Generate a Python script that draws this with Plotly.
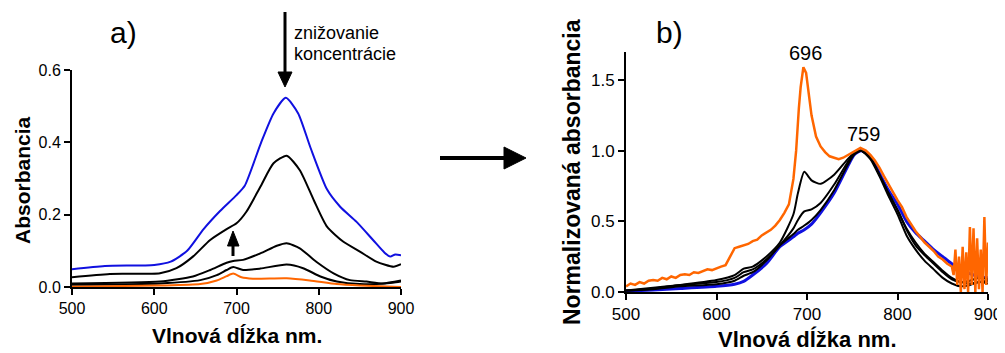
import plotly.graph_objects as go

# ---------------- Panel a) data ----------------
wl_blue_a = [500, 540, 600, 620, 640, 660, 680, 700, 710, 730, 745, 760, 775, 790, 810, 826, 846, 866, 880, 887, 893, 900]
blue_a = [0.049, 0.058, 0.061, 0.07, 0.1, 0.16, 0.21, 0.254, 0.28, 0.40, 0.48, 0.523, 0.48, 0.385, 0.27, 0.222, 0.18, 0.13, 0.095, 0.084, 0.09, 0.088]

wl_k1_a = [500, 546, 607, 627, 647, 668, 688, 700, 712, 729, 745, 761, 777, 794, 810, 830, 850, 870, 891, 900]
k1_a = [0.027, 0.036, 0.038, 0.052, 0.084, 0.13, 0.16, 0.176, 0.208, 0.277, 0.342, 0.363, 0.323, 0.24, 0.167, 0.125, 0.098, 0.07, 0.056, 0.063]

wl_k2_a = [500, 607, 647, 668, 688, 696, 708, 729, 749, 761, 777, 797, 818, 838, 858, 878, 900]
k2_a = [0.01, 0.015, 0.029, 0.047, 0.067, 0.072, 0.075, 0.093, 0.114, 0.121, 0.107, 0.07, 0.038, 0.019, 0.015, 0.01, 0.018]

wl_k3_a = [500, 607, 656, 676, 688, 696, 708, 729, 761, 781, 802, 822, 850, 890, 900]
k3_a = [0.006, 0.01, 0.019, 0.033, 0.047, 0.055, 0.047, 0.051, 0.062, 0.052, 0.029, 0.015, 0.008, 0.012, 0.015]

wl_or_a = [500, 607, 656, 676, 688, 696, 706, 720, 761, 789, 822, 850, 900]
or_a = [0.001, 0.004, 0.008, 0.018, 0.03, 0.037, 0.027, 0.023, 0.024, 0.018, 0.008, 0.004, 0.0]

# ---------------- Panel b) data ----------------
wl_b = [500, 530, 560, 600, 620, 630, 640, 655, 670, 685, 690, 697, 705, 715, 730, 745, 752, 760, 770, 780, 790, 800, 810, 820, 830, 840, 850, 860, 870, 880, 890, 900]
blue_b = [0.005, 0.015, 0.025, 0.04, 0.055, 0.075, 0.12, 0.2, 0.32, 0.39, 0.415, 0.44, 0.48, 0.56, 0.70, 0.89, 0.97, 1.0, 0.96, 0.84, 0.72, 0.62, 0.50, 0.42, 0.36, 0.30, 0.25, 0.20, 0.16, 0.13, 0.11, 0.10]
kC_b = [0.01, 0.02, 0.04, 0.055, 0.08, 0.115, 0.14, 0.22, 0.33, 0.41, 0.44, 0.47, 0.51, 0.58, 0.72, 0.90, 0.97, 1.0, 0.95, 0.83, 0.70, 0.58, 0.45, 0.35, 0.27, 0.21, 0.15, 0.10, 0.07, 0.06, 0.07, 0.08]
kB_b = [0.01, 0.025, 0.05, 0.07, 0.10, 0.14, 0.16, 0.23, 0.33, 0.45, 0.51, 0.57, 0.585, 0.63, 0.76, 0.92, 0.98, 1.0, 0.95, 0.83, 0.70, 0.58, 0.44, 0.33, 0.26, 0.20, 0.14, 0.09, 0.07, 0.08, 0.10, 0.09]
kA_b = [0.01, 0.03, 0.05, 0.085, 0.12, 0.165, 0.18, 0.25, 0.35, 0.55, 0.70, 0.85, 0.79, 0.765, 0.83, 0.94, 0.98, 1.0, 0.94, 0.82, 0.68, 0.55, 0.40, 0.30, 0.22, 0.16, 0.10, 0.06, 0.04, 0.05, 0.07, 0.06]

wl_or_b = [500, 505, 510, 515, 520, 525, 530, 535, 540, 545, 550, 555, 560, 565, 570, 575, 580, 585, 590, 595,
           600, 605, 610, 615, 620, 625, 630, 635, 640, 645, 650, 655, 660, 665, 670, 675, 680, 685, 688, 691,
           693, 696, 699, 702, 705, 710, 715, 720, 725, 730, 735, 740, 745, 750, 755, 759, 765, 770, 775, 780,
           785, 790, 795, 800, 805, 810, 815, 820, 825, 830, 835, 840, 845, 850, 855, 860, 862, 864, 866, 868,
           870, 872, 874, 876, 878, 880, 882, 884, 886, 888, 890, 892, 894, 896, 898, 900]
or_b = [0.04, 0.06, 0.05, 0.07, 0.06, 0.08, 0.085, 0.08, 0.10, 0.09, 0.11, 0.10, 0.12, 0.125, 0.12, 0.14, 0.135, 0.15, 0.16, 0.155,
        0.17, 0.18, 0.19, 0.25, 0.31, 0.32, 0.33, 0.34, 0.36, 0.37, 0.40, 0.42, 0.44, 0.47, 0.51, 0.56, 0.62, 0.80, 1.00, 1.30,
        1.45, 1.59, 1.55, 1.40, 1.25, 1.10, 1.03, 0.99, 0.96, 0.95, 0.94, 0.95, 0.97, 0.99, 1.01, 1.02, 1.00, 0.97, 0.93, 0.88,
        0.82, 0.76, 0.70, 0.65, 0.60, 0.53, 0.48, 0.43, 0.39, 0.35, 0.32, 0.29, 0.25, 0.23, 0.20, 0.18, 0.12, 0.30, 0.05, 0.25,
        0.0, 0.32, 0.02, 0.28, 0.0, 0.46, 0.05, 0.45, 0.0, 0.38, 0.02, 0.30, 0.0, 0.53, 0.05, 0.35]

xticks = [500, 600, 700, 800, 900]
yticks_a = [0.0, 0.2, 0.4, 0.6]
yticks_b = [0.0, 0.5, 1.0, 1.5]

BLUE = "#1010e0"
BLACK = "#000000"
ORANGE = "#ff6600"
FONT = "Liberation Sans, Arial, sans-serif"

# page has an 8px body margin: figure is sized to fit the window after it
OFF = 8
W, H = 1005 - OFF, 353 - OFF


def px(x, y):
    """window pixel -> paper coords"""
    return (x - OFF) / W, 1 - (y - OFF) / H


def xdom(x0, x1):
    return [px(x0, 0)[0], px(x1, 0)[0]]


def ydom(ybot, ytop):
    return [px(0, ybot)[1], px(0, ytop)[1]]


fig = go.Figure()

# panel a
fig.add_trace(go.Scatter(x=wl_blue_a, y=blue_a, mode="lines", line=dict(color=BLUE, width=2, shape="spline", smoothing=0.6), xaxis="x", yaxis="y"))
for wx, yy in [(wl_k1_a, k1_a), (wl_k2_a, k2_a), (wl_k3_a, k3_a)]:
    fig.add_trace(go.Scatter(x=wx, y=yy, mode="lines", line=dict(color=BLACK, width=2, shape="spline", smoothing=0.6), xaxis="x", yaxis="y"))
fig.add_trace(go.Scatter(x=wl_or_a, y=or_a, mode="lines", line=dict(color=ORANGE, width=2, shape="spline", smoothing=0.6), xaxis="x", yaxis="y"))

# panel b
fig.add_trace(go.Scatter(x=wl_b, y=blue_b, mode="lines", line=dict(color=BLUE, width=3, shape="spline", smoothing=0.6), xaxis="x2", yaxis="y2"))
for yy in [kC_b, kB_b, kA_b]:
    fig.add_trace(go.Scatter(x=wl_b, y=yy, mode="lines", line=dict(color=BLACK, width=2, shape="spline", smoothing=0.6), xaxis="x2", yaxis="y2"))
fig.add_trace(go.Scatter(x=wl_or_b, y=or_b, mode="lines", line=dict(color=ORANGE, width=2.5), xaxis="x2", yaxis="y2"))


def axis_style(size):
    return dict(showline=True, linewidth=2, linecolor="black", ticks="outside", ticklen=6, tickwidth=2,
                tickcolor="black", showgrid=False, zeroline=False, automargin=False,
                tickfont=dict(family=FONT, size=size, color="black"))


fig.update_layout(
    width=W, height=H,
    margin=dict(l=0, r=0, t=0, b=0, autoexpand=False),
    paper_bgcolor="white", plot_bgcolor="white",
    showlegend=False,
    xaxis=dict(domain=xdom(72, 401), range=[500, 900], tickvals=xticks, anchor="y", **axis_style(16)),
    yaxis=dict(domain=ydom(287, 70), range=[0, 0.6], tickvals=yticks_a, tickformat=".1f", anchor="x", **axis_style(16)),
    xaxis2=dict(domain=xdom(626, 988), range=[500, 900], tickvals=xticks, anchor="y2", **axis_style(17)),
    yaxis2=dict(domain=ydom(292, 51.7), range=[0, 1.7], tickvals=yticks_b, tickformat=".1f", anchor="x2", **axis_style(17)),
)

annotations = []


def text(x, y, s, size, bold=False, xanchor="center", angle=0):
    xx, yy = px(x, y)
    annotations.append(dict(x=xx, y=yy, xref="paper", yref="paper", text=f"<b>{s}</b>" if bold else s,
                            showarrow=False, xanchor=xanchor, yanchor="middle", textangle=angle,
                            font=dict(family=FONT, size=size, color="black")))


text(237, 335, "Vlnová dĺžka nm.", 21, bold=True)
text(22, 180, "Absorbancia", 21, bold=True, angle=-90)
text(807, 339, "Vlnová dĺžka nm.", 22, bold=True)
text(572, 172, "Normalizovaná absorbancia", 23, bold=True, angle=-90)
text(123, 32, "a)", 30)
text(669, 32, "b)", 30)
text(292, 33, "znižovanie", 18, xanchor="left")
text(292, 54, "koncentrácie", 18, xanchor="left")
text(805, 53, "696", 20)
text(863, 134, "759", 20)
fig.update_layout(annotations=annotations)

shapes = []


def line(x0, y0, x1, y1, w):
    a, b = px(x0, y0)
    c, d = px(x1, y1)
    shapes.append(dict(type="line", xref="paper", yref="paper", x0=a, y0=b, x1=c, y1=d,
                       line=dict(color="black", width=w)))


def tri(pts):
    p = [px(x, y) for x, y in pts]
    path = "M {} {} L {} {} L {} {} Z".format(p[0][0], p[0][1], p[1][0], p[1][1], p[2][0], p[2][1])
    shapes.append(dict(type="path", xref="paper", yref="paper", path=path,
                       fillcolor="black", line=dict(color="black", width=1)))


# middle arrow
line(440, 158, 506, 158, 4)
tri([(504, 147), (526, 158), (504, 169)])
# down arrow
line(285, 12, 285, 74, 3)
tri([(278, 72), (292, 72), (285, 87)])
# small up arrow
line(233, 256, 233, 244, 3)
tri([(227.5, 246), (239, 246), (233, 231)])

fig.update_layout(shapes=shapes)

fig.write_html("out.html")
